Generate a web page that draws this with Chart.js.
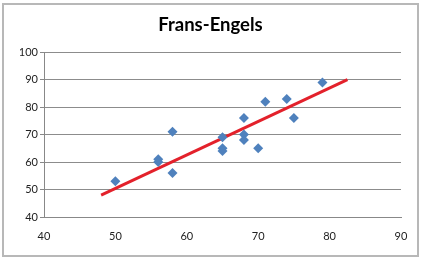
<!DOCTYPE html>
<html>
<head>
<meta charset="utf-8">
<script src="https://cdn.jsdelivr.net/npm/chart.js@4"></script>
<style>
  html, body { margin: 0; padding: 0; background: #fff; }
  #wrap { width: 421px; height: 258px; }
</style>
</head>
<body>
<div id="wrap"><canvas id="chart" width="421" height="258"></canvas></div>
<script>
// scores (x = Frans, y = Engels)
const fransScores = [50, 56, 56, 58, 58, 65, 65, 65, 68, 68, 68, 70, 71, 74, 75, 79];
const engelsScores = [53, 61, 60, 71, 56, 69, 65, 64, 76, 70, 68, 65, 82, 83, 76, 89];

// trend line end points
const trendX = [48, 82.5];
const trendY = [48, 90];

const xTicks = [40, 50, 60, 70, 80, 90];
const yTicks = [40, 50, 60, 70, 80, 90, 100];

const points = fransScores.map((x, i) => ({ x: x, y: engelsScores[i] }));
const trend = trendX.map((x, i) => ({ x: x, y: trendY[i] }));

// light grey frame round the whole chart
const frame = {
    id: 'frame',
    beforeDraw(chart) {
        const ctx = chart.ctx;
        ctx.save();
        ctx.fillStyle = '#fff';
        ctx.fillRect(0, 0, chart.width, chart.height);
        ctx.strokeStyle = '#b8b8b8';
        ctx.lineWidth = 2;
        ctx.strokeRect(3, 4, 415, 252);
        ctx.restore();
    }
};

new Chart(document.getElementById('chart'), {
    type: 'scatter',
    data: {
        datasets: [{
            label: 'Frans-Engels',
            data: points,
            pointStyle: 'rectRot',
            pointRadius: 5,
            pointHoverRadius: 5,
            backgroundColor: '#4f81bd',
            borderColor: '#4f81bd',
            borderWidth: 0
        }, {
            label: 'Trend',
            type: 'line',
            data: trend,
            borderColor: '#e3212b',
            borderWidth: 3,
            pointRadius: 0,
            fill: false
        }]
    },
    options: {
        responsive: false,
        animation: false,
        events: [],
        layout: { padding: { left: 20, right: 20, top: 0, bottom: 0 } },
        plugins: {
            legend: { display: false },
            tooltip: { enabled: false },
            title: {
                display: true,
                text: 'Frans-Engels',
                color: '#000',
                font: { family: 'Lato', size: 18.5, weight: 'bold' },
                padding: { top: 14, bottom: 16 }
            }
        },
        scales: {
            x: {
                type: 'linear',
                min: 40,
                max: 90,
                afterBuildTicks: (s) => { s.ticks = xTicks.map(v => ({ value: v })); },
                afterFit: (s) => { s.height = 41; },
                grid: { display: false, drawOnChartArea: false, drawTicks: true, tickLength: 4, tickColor: '#888' },
                border: { display: true, color: '#888', width: 1 },
                ticks: { color: '#222', font: { family: 'Lato', size: 11 }, padding: 9 }
            },
            y: {
                type: 'linear',
                min: 40,
                max: 100,
                afterBuildTicks: (s) => { s.ticks = yTicks.map(v => ({ value: v })); },
                afterFit: (s) => { s.width = 24; },
                grid: { color: '#8c8c8c', lineWidth: 1, tickLength: 4, tickColor: '#888' },
                border: { display: true, color: '#888', width: 1 },
                ticks: { color: '#222', font: { family: 'Lato', size: 11 }, padding: 2 }
            }
        }
    },
    plugins: [frame]
});
</script>
</body>
</html>
